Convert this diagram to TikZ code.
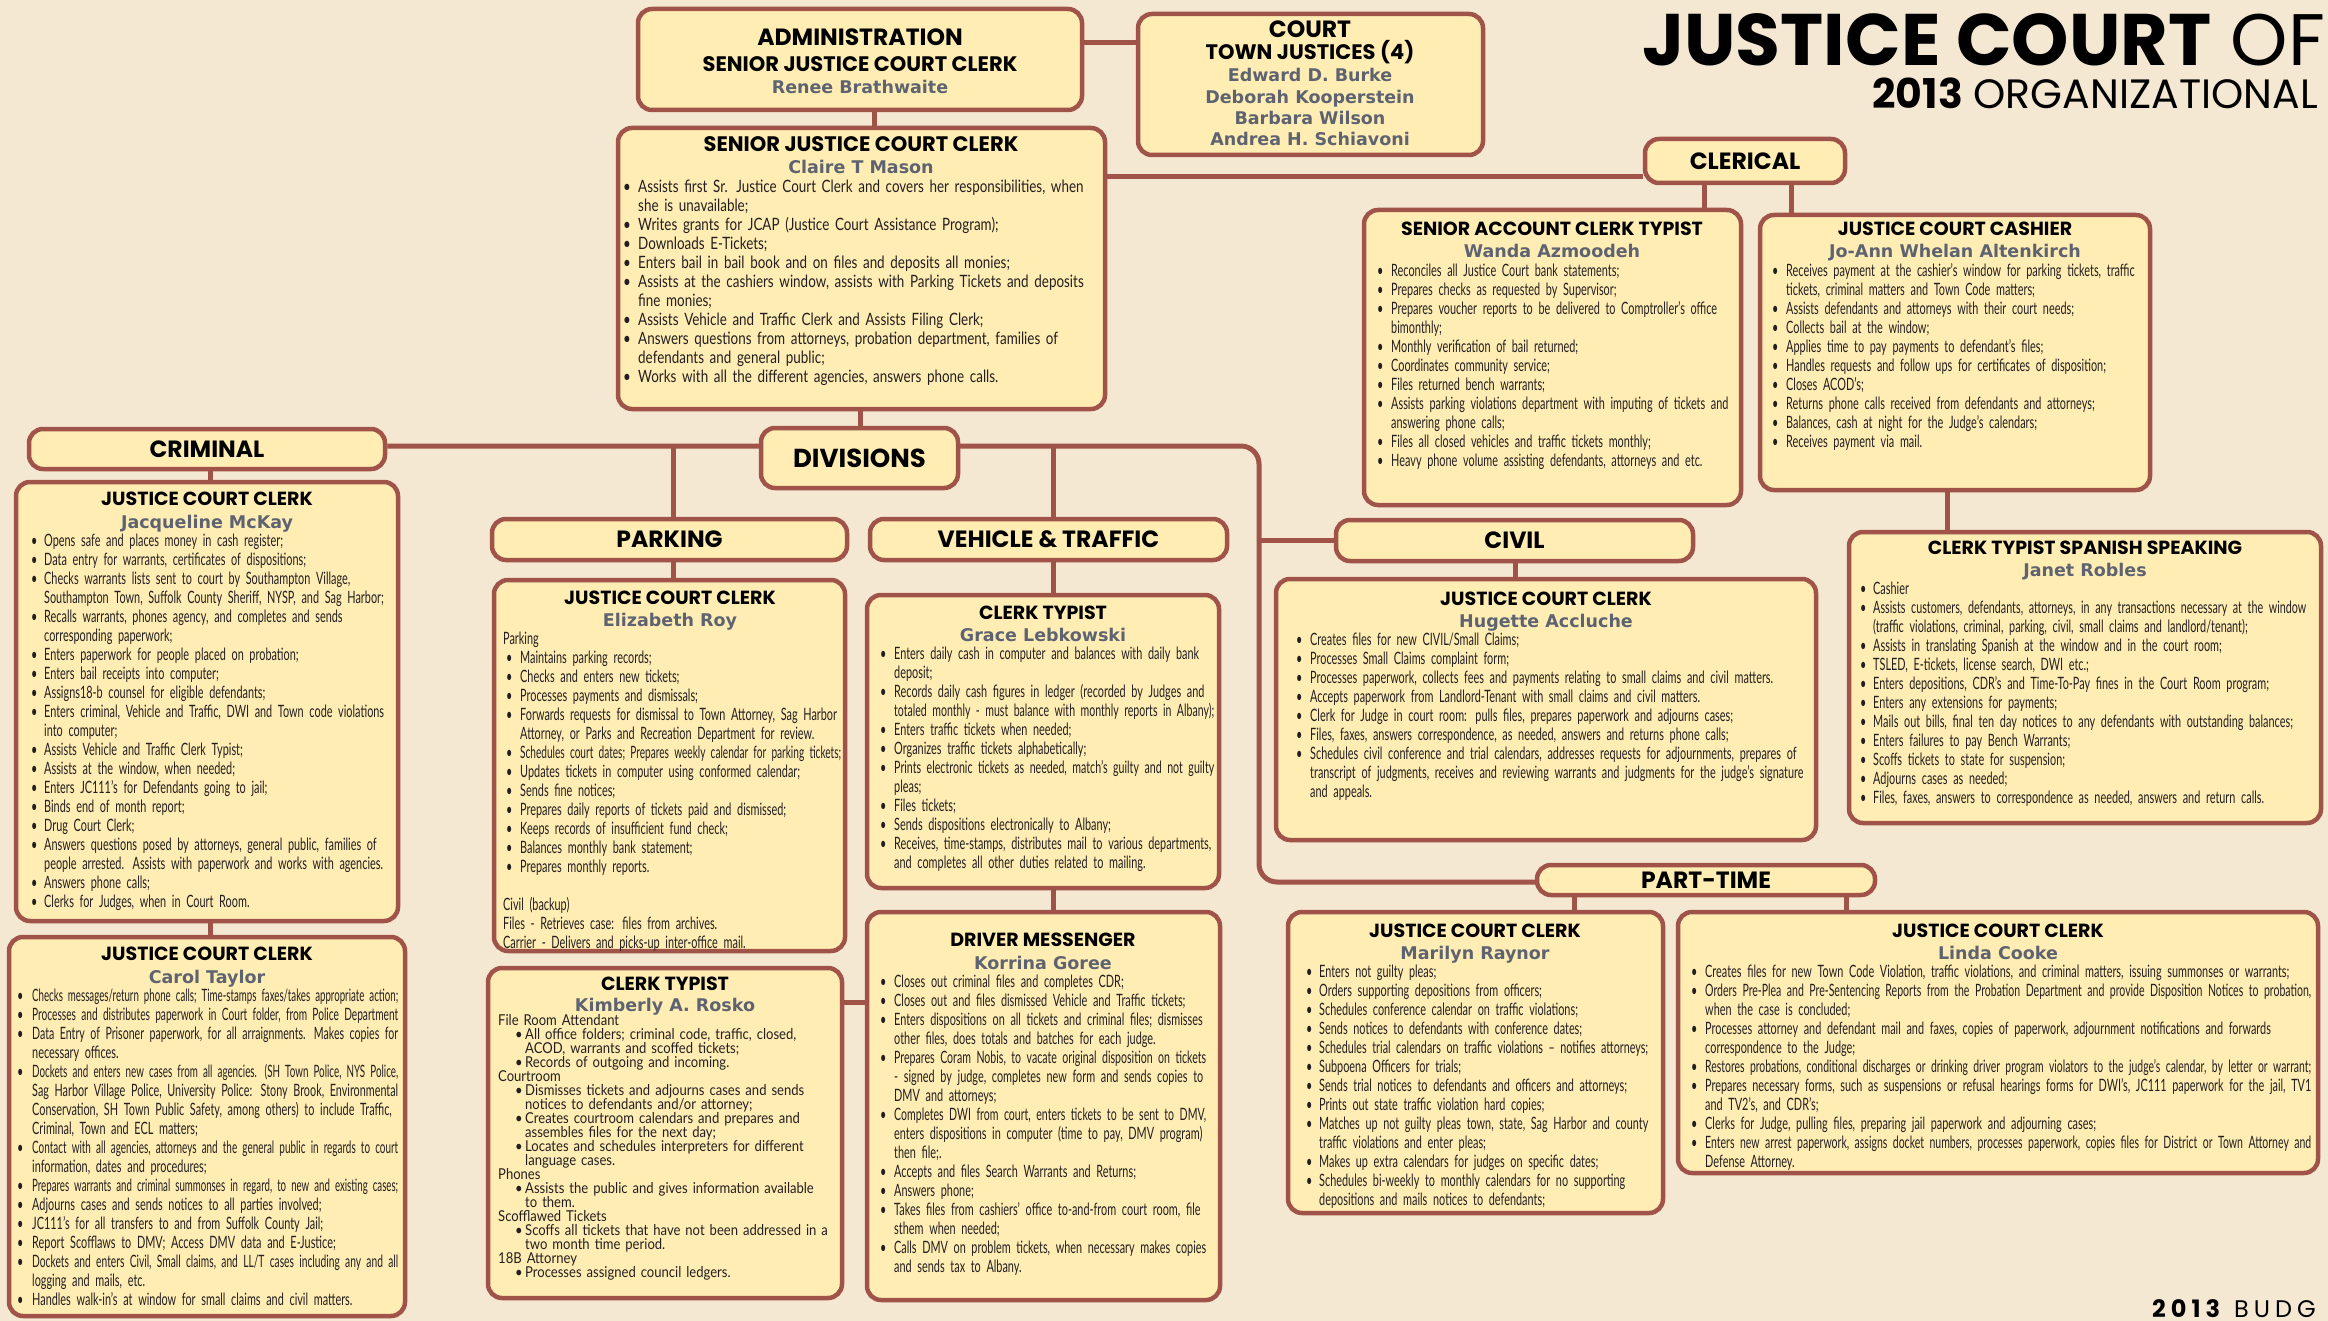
\documentclass[tikz,border=0pt]{standalone}
\usepackage{fontspec}
\usepackage{graphicx}
\setmainfont{Lato}
\newfontfamily\hfont{Poppins}
\newfontfamily\nmfont{DejaVu Sans}
\newfontfamily\bodyN[FakeStretch=0.64]{Lato}
\newfontfamily\bodyW[FakeStretch=0.79]{Lato}
\newfontfamily\bodyK[FakeStretch=0.87]{Lato}
\definecolor{bgc}{RGB}{244,232,211}
\definecolor{fillc}{RGB}{255,237,180}
\definecolor{linec}{RGB}{160,83,72}
\definecolor{namec}{RGB}{93,99,112}
\definecolor{bodyc}{RGB}{35,31,32}
\pgfdeclarelayer{bgl}\pgfdeclarelayer{cnl}\pgfsetlayers{bgl,cnl,main}
\makeatletter
\newdimen\bind \newdimen\bpre \newdimen\avw
\newsavebox\fitbox
\newif\ifrg \newif\ifallrg
\newcommand\RG{\global\rgtrue}
\newcommand\mystrut{\vrule width 0pt height .7\baselineskip depth .3\baselineskip\relax}
\def\setavw{\avw=\hsize\advance\avw-\bind}
\def\jline#1{\setavw\global\rgfalse\sbox\fitbox{#1}%
  \ifdim\wd\fitbox>\avw\resizebox{\avw}{\ht\fitbox}{\usebox\fitbox}%
  \else\ifallrg\usebox\fitbox\else\ifrg\usebox\fitbox\else\hbox to\avw{#1}\fi\fi\fi}
\def\lline#1{\setavw\sbox\fitbox{#1}%
  \ifdim\wd\fitbox>\avw\resizebox{\avw}{\ht\fitbox}{\usebox\fitbox}%
  \else\usebox\fitbox\fi}
\def\splitl#1|#2\@nil{\ifx\relax#2\relax\lline{#1}\else\jline{#1}\mystrut\par\noindent\hskip\bind\splitl#2\@nil\fi}
\newcommand\itm[1]{\par\noindent\hbox to\bind{\hskip\bpre•\hfil}\splitl#1|\@nil\mystrut}
\newcommand\pln[1]{\par\noindent\hbox{#1}\mystrut}
\makeatother
\newcommand\bx[6][]{%
  \pgfmathsetmacro\bxcx{(#3+#5)/2}\pgfmathsetmacro\bxcy{(#4+#6)/2}%
  \pgfmathsetmacro\bxw{#5-#3-4}\pgfmathsetmacro\bxh{#6-#4-4}%
  \node[box,minimum width=\bxw pt,minimum height=\bxh pt,#1] (#2) at (\bxcx,\bxcy)}
\begin{document}
\begin{tikzpicture}[x=1pt,y=-1pt,
  box/.style={draw=linec, fill=fillc, line width=4.5pt, rounded corners=14pt, inner sep=0pt},
  lbl/.style={font=\hfont\bfseries\fontsize{23.5}{24}\selectfont},
  conn/.style={draw=linec, line width=5pt},
  hdL/.style={anchor=base, inner sep=0pt, font=\hfont\bfseries\fontsize{23.5}{24}\selectfont},
  hdM/.style={anchor=base, inner sep=0pt, font=\hfont\bfseries\fontsize{21}{21}\selectfont},
  hd/.style={anchor=base, inner sep=0pt, font=\hfont\bfseries\fontsize{19}{19}\selectfont},
  nm/.style={anchor=base, inner sep=0pt, text=namec, font=\nmfont\bfseries\fontsize{17.5}{17.5}\selectfont},
  btxt/.style={anchor=north west, inner sep=0pt, text width=#1, align=left, text=bodyc,
    font=\bodyN\fontsize{17}{19}\selectfont, execute at begin node={\lineskiplimit=-100pt\parskip=0pt\relax}},
  btxtW/.style={btxt=#1, font=\bodyW\fontsize{17}{19}\selectfont},
  btxtK/.style={btxt=#1, font=\bodyK\fontsize{15}{14}\selectfont}
]
\useasboundingbox (0,0) rectangle (2328,1321);
\begin{pgfonlayer}{bgl}
\fill[bgc] (0,0) rectangle (2328,1321);
\end{pgfonlayer}

% title
\node[anchor=base west, inner sep=0pt, font=\hfont\fontsize{73}{73}\selectfont] (title) at (1642,66) {{\bfseries JUSTICE COURT} OF};
\node[anchor=base east, inner sep=0pt, font=\hfont\fontsize{41}{41}\selectfont] (subtitle) at (2318,109) {{\bfseries 2013} ORGANIZATIONAL};
\node[anchor=base west, inner sep=0pt, font=\hfont\fontsize{24}{24}\selectfont] (budget) at (2152,1317) {{\bfseries 2\hspace{5pt}0\hspace{5pt}1\hspace{5pt}3}\hspace{14pt}B\hspace{5pt}U\hspace{5pt}D\hspace{5pt}G};

% boxes
\bx{admin}{636}{7}{1084}{112} {};
\bx{court}{1136}{12}{1485}{157} {};
\bx{sjc}{616}{126}{1107}{411} {};
\bx[lbl]{clerical}{1643}{137}{1847}{185} {CLERICAL};
\bx{wanda}{1362}{208}{1743}{507} {};
\bx{cashier}{1758}{213}{2152}{492} {};
\bx{janet}{1847}{530}{2323}{825} {};
\bx[font=\hfont\bfseries\fontsize{26}{26}\selectfont]{divisions}{759}{426}{960}{490} {DIVISIONS};
\bx[lbl]{criminal}{27}{427}{387}{471} {CRIMINAL};
\bx{jacq}{14}{480}{400}{923} {};
\bx{carol}{7}{935}{407}{1318} {};
\bx[lbl]{parking}{490}{517}{849}{562} {PARKING};
\bx[lbl]{vehicle}{868}{517}{1229}{562} {VEHICLE \& TRAFFIC};
\bx{eliz}{492}{578}{847}{953} {};
\bx{grace}{865}{593}{1221}{890} {};
\bx{korrina}{865}{910}{1222}{1302} {};
\bx{kim}{486}{966}{844}{1300} {};
\bx[lbl]{civil}{1334}{518}{1695}{563} {CIVIL};
\bx{hugette}{1274}{577}{1818}{842} {};
\bx[lbl]{parttime}{1535}{863}{1877}{897} {PART-TIME};
\bx{marilyn}{1286}{910}{1665}{1215} {};
\bx{linda}{1676}{910}{2320}{1175} {};

% admin / court
\node[hdL] (adminT) at (860,46) {ADMINISTRATION};
\node[hdM] (adminH) at (860,72) {SENIOR JUSTICE COURT CLERK};
\node[nm] (adminN) at (860,94) {Renee Brathwaite};
\node[hdL] (courtT) at (1310,38) {COURT};
\node[hdM] (courtH) at (1310,60) {TOWN JUSTICES (4)};
\node[nm] (j1) at (1310,82) {Edward D. Burke};
\node[nm] (j2) at (1310,104) {Deborah Kooperstein};
\node[nm] (j3) at (1310,125) {Barbara Wilson};
\node[nm] (j4) at (1310,146) {Andrea H. Schiavoni};

% senior justice court clerk
\node[hdM] (sjcH) at (861,152) {SENIOR JUSTICE COURT CLERK};
\node[nm] (sjcN) at (861,174) {Claire T Mason};
\node[btxtW=475pt] (sjcB) at (623,173) {\bind=15pt\bpre=0pt
\itm{Assists first Sr. Justice Court Clerk and covers her responsibilities, when|she is unavailable;}
\itm{Writes grants for JCAP (Justice Court Assistance Program);}
\itm{Downloads E-Tickets;}
\itm{Enters bail in bail book and on files and deposits all monies;}
\itm{Assists at the cashiers window, assists with Parking Tickets and deposits|fine monies;}
\itm{Assists Vehicle and Traffic Clerk and Assists Filing Clerk;}
\itm{Answers questions from attorneys, probation department, families of|defendants and general public;}
\itm{Works with all the different agencies, answers phone calls.}};

% wanda
\node[hd] (wandaH) at (1552,236) {SENIOR ACCOUNT CLERK TYPIST};
\node[nm] (wandaN) at (1552,258) {Wanda Azmoodeh};
\node[btxt=356pt] (wandaB) at (1377,257) {\bind=14pt\bpre=0pt
\itm{Reconciles all Justice Court bank statements;}
\itm{Prepares checks as requested by Supervisor;}
\itm{Prepares voucher reports to be delivered to Comptroller’s office|bimonthly;}
\itm{Monthly verification of bail returned;}
\itm{Coordinates community service;}
\itm{Files returned bench warrants;}
\itm{Assists parking violations department with imputing of tickets and|answering phone calls;}
\itm{Files all closed vehicles and traffic tickets monthly;}
\itm{Heavy phone volume assisting defendants, attorneys and etc.}};

% cashier
\node[hd] (cashH) at (1955,236) {JUSTICE COURT CASHIER};
\node[nm] (cashN) at (1955,258) {Jo-Ann Whelan Altenkirch};
\node[btxt=364pt] (cashB) at (1772,257) {\bind=14pt\bpre=0pt
\itm{Receives payment at the cashier’s window for parking tickets, traffic|tickets, criminal matters and Town Code matters;}
\itm{Assists defendants and attorneys with their court needs;}
\itm{Collects bail at the window;}
\itm{Applies time to pay payments to defendant’s files;}
\itm{Handles requests and follow ups for certificates of disposition;}
\itm{Closes ACOD’s;}
\itm{Returns phone calls received from defendants and attorneys;}
\itm{Balances, cash at night for the Judge’s calendars;}
\itm{Receives payment via mail.}};

% janet
\node[hd] (janetH) at (2085,554) {CLERK TYPIST SPANISH SPEAKING};
\node[nm] (janetN) at (2085,576) {Janet Robles};
\node[btxt=446pt] (janetB) at (1860,575) {\bind=13pt\bpre=0pt
\itm{Cashier}
\itm{Assists customers, defendants, attorneys, in any transactions necessary at the window|(traffic violations, criminal, parking, civil, small claims and landlord/tenant);}
\itm{Assists in translating Spanish at the window and in the court room;}
\itm{TSLED, E-tickets, license search, DWI etc.;}
\itm{Enters depositions, CDR’s and Time-To-Pay fines in the Court Room program;}
\itm{Enters any extensions for payments;}
\itm{Mails out bills, final ten day notices to any defendants with outstanding balances;}
\itm{Enters failures to pay Bench Warrants;}
\itm{Scoffs tickets to state for suspension;}
\itm{Adjourns cases as needed;}
\itm{Files, faxes, answers to correspondence as needed, answers and return calls.}};

% jacqueline
\node[hd] (jacqH) at (207,505) {JUSTICE COURT CLERK};
\node[nm] (jacqN) at (207,528) {Jacqueline McKay};
\node[btxt=356pt] (jacqB) at (31,527) {\bind=13pt\bpre=0pt
\itm{Opens safe and places money in cash register;}
\itm{Data entry for warrants, certificates of dispositions;}
\itm{Checks warrants lists sent to court by Southampton Village,|Southampton Town, Suffolk County Sheriff, NYSP, and Sag Harbor;}
\itm{Recalls warrants, phones agency, and completes and sends\RG|corresponding paperwork;}
\itm{Enters paperwork for people placed on probation;}
\itm{Enters bail receipts into computer;}
\itm{Assigns18-b counsel for eligible defendants;}
\itm{Enters criminal, Vehicle and Traffic, DWI and Town code violations|into computer;}
\itm{Assists Vehicle and Traffic Clerk Typist;}
\itm{Assists at the window, when needed;}
\itm{Enters JC111’s for Defendants going to jail;}
\itm{Binds end of month report;}
\itm{Drug Court Clerk;}
\itm{Answers questions posed by attorneys, general public, families of|people arrested. Assists with paperwork and works with agencies.}
\itm{Answers phone calls;}
\itm{Clerks for Judges, when in Court Room.}};

% carol
\node[hd] (carolH) at (207,960) {JUSTICE COURT CLERK};
\node[nm] (carolN) at (207,983) {Carol Taylor};
\node[btxt=381pt] (carolB) at (17,982) {\bind=15pt\bpre=0pt
\itm{Checks messages/return phone calls; Time-stamps faxes/takes appropriate action;}
\itm{Processes and distributes paperwork in Court folder, from Police Department}
\itm{Data Entry of Prisoner paperwork, for all arraignments. Makes copies for|necessary offices.}
\itm{Dockets and enters new cases from all agencies. (SH Town Police, NYS Police,|Sag Harbor Village Police, University Police: Stony Brook, Environmental|Conservation, SH Town Public Safety, among others) to include Traffic,|Criminal, Town and ECL matters;}
\itm{Contact with all agencies, attorneys and the general public in regards to court|information, dates and procedures;}
\itm{Prepares warrants and criminal summonses in regard, to new and existing cases;}
\itm{Adjourns cases and sends notices to all parties involved;}
\itm{JC111’s for all transfers to and from Suffolk County Jail;}
\itm{Report Scofflaws to DMV; Access DMV data and E-Justice;}
\itm{Dockets and enters Civil, Small claims, and LL/T cases including any and all|logging and mails, etc.}
\itm{Handles walk-in’s at window for small claims and civil matters.}};

% elizabeth
\node[hd] (elizH) at (670,604) {JUSTICE COURT CLERK};
\node[nm] (elizN) at (670,626) {Elizabeth Roy};
\node[btxt=338pt] (elizB) at (503,625) {\bind=17pt\bpre=3pt
\pln{Parking}
\itm{Maintains parking records;}
\itm{Checks and enters new tickets;}
\itm{Processes payments and dismissals;}
\itm{Forwards requests for dismissal to Town Attorney, Sag Harbor|Attorney, or Parks and Recreation Department for review.}
\itm{Schedules court dates; Prepares weekly calendar for parking tickets;}
\itm{Updates tickets in computer using conformed calendar;}
\itm{Sends fine notices;}
\itm{Prepares daily reports of tickets paid and dismissed;}
\itm{Keeps records of insufficient fund check;}
\itm{Balances monthly bank statement;}
\itm{Prepares monthly reports.}
\pln{}
\pln{Civil (backup)}
\pln{Files - Retrieves case: files from archives.}
\pln{Carrier - Delivers and picks-up inter-office mail.}};

% grace
\node[hd] (graceH) at (1043,619) {CLERK TYPIST};
\node[nm] (graceN) at (1043,641) {Grace Lebkowski};
\node[btxt=334pt] (graceB) at (880,640) {\bind=14pt\bpre=0pt
\itm{Enters daily cash in computer and balances with daily bank|deposit;}
\itm{Records daily cash figures in ledger (recorded by Judges and|totaled monthly - must balance with monthly reports in Albany);}
\itm{Enters traffic tickets when needed;}
\itm{Organizes traffic tickets alphabetically;}
\itm{Prints electronic tickets as needed, match’s guilty and not guilty|pleas;}
\itm{Files tickets;}
\itm{Sends dispositions electronically to Albany;}
\itm{Receives, time-stamps, distributes mail to various departments,|and completes all other duties related to mailing.}};

% korrina
\node[hd] (korH) at (1043,946) {DRIVER MESSENGER};
\node[nm] (korN) at (1043,969) {Korrina Goree};
\node[btxt=326pt] (korB) at (880,968) {\bind=14pt\bpre=0pt
\itm{Closes out criminal files and completes CDR;}
\itm{Closes out and files dismissed Vehicle and Traffic tickets;}
\itm{Enters dispositions on all tickets and criminal files; dismisses|other files, does totals and batches for each judge.}
\itm{Prepares Coram Nobis, to vacate original disposition on tickets|- signed by judge, completes new form and sends copies to|DMV and attorneys;}
\itm{Completes DWI from court, enters tickets to be sent to DMV,|enters dispositions in computer (time to pay, DMV program)|then file;.}
\itm{Accepts and files Search Warrants and Returns;}
\itm{Answers phone;}
\itm{Takes files from cashiers’ office to-and-from court room, file|sthem when needed;}
\itm{Calls DMV on problem tickets, when necessary makes copies|and sends tax to Albany.}};

% kimberly
\node[hd] (kimH) at (665,990) {CLERK TYPIST};
\node[nm] (kimN) at (665,1011) {Kimberly A. Rosko};
\node[btxtK=332pt] (kimB) at (498,1011) {\allrgtrue\bind=27pt\bpre=17pt
\pln{File Room Attendant}
\itm{All office folders; criminal code, traffic, closed,|ACOD, warrants and scoffed tickets;}
\itm{Records of outgoing and incoming.}
\pln{Courtroom}
\itm{Dismisses tickets and adjourns cases and sends|notices to defendants and/or attorney;}
\itm{Creates courtroom calendars and prepares and|assembles files for the next day;}
\itm{Locates and schedules interpreters for different|language cases.}
\pln{Phones}
\itm{Assists the public and gives information available|to them.}
\pln{Scofflawed Tickets}
\itm{Scoffs all tickets that have not been addressed in a|two month time period.}
\pln{18B Attorney}
\itm{Processes assigned council ledgers.}};

% hugette
\node[hd] (hugH) at (1546,605) {JUSTICE COURT CLERK};
\node[nm] (hugN) at (1546,627) {Hugette Accluche};
\node[btxt=512pt] (hugB) at (1296,626) {\bind=14pt\bpre=0pt
\itm{Creates files for new CIVIL/Small Claims;}
\itm{Processes Small Claims complaint form;}
\itm{Processes paperwork, collects fees and payments relating to small claims and civil matters.}
\itm{Accepts paperwork from Landlord-Tenant with small claims and civil matters.}
\itm{Clerk for Judge in court room: pulls files, prepares paperwork  and adjourns cases;}
\itm{Files, faxes, answers correspondence, as needed, answers and returns phone calls;}
\itm{Schedules civil conference and trial calendars, addresses requests for adjournments, prepares of|transcript of judgments, receives and reviewing warrants and judgments for the judge’s signature|and appeals.}};

% marilyn
\node[hd] (marH) at (1475,937) {JUSTICE COURT CLERK};
\node[nm] (marN) at (1475,959) {Marilyn Raynor};
\node[btxt=342pt] (marB) at (1306,958) {\bind=13pt\bpre=0pt
\itm{Enters not guilty pleas;}
\itm{Orders supporting depositions from officers;}
\itm{Schedules conference calendar on traffic violations;}
\itm{Sends notices to defendants with conference dates;}
\itm{Schedules trial calendars on traffic violations – notifies attorneys;}
\itm{Subpoena Officers for trials;}
\itm{Sends trial notices to defendants and officers and attorneys;}
\itm{Prints out state traffic violation hard copies;}
\itm{Matches up not guilty pleas town, state, Sag Harbor and county|traffic violations and enter pleas;}
\itm{Makes up extra calendars for judges on specific dates;}
\itm{Schedules bi-weekly to monthly calendars for no supporting|depositions and mails notices to defendants;}};

% linda
\node[hd] (lindaH) at (1998,937) {JUSTICE COURT CLERK};
\node[nm] (lindaN) at (1998,959) {Linda Cooke};
\node[btxt=620pt] (lindaB) at (1691,958) {\bind=14pt\bpre=0pt
\itm{Creates files for new Town Code Violation, traffic violations, and criminal matters, issuing summonses or warrants;}
\itm{Orders Pre-Plea and Pre-Sentencing Reports from the Probation Department and provide Disposition Notices to probation,|when the case is concluded;}
\itm{Processes attorney and defendant mail and faxes, copies of paperwork, adjournment notifications and forwards|correspondence to the Judge;}
\itm{Restores probations, conditional discharges or drinking driver program violators to the judge’s calendar, by letter or warrant;}
\itm{Prepares necessary forms, such as suspensions or refusal hearings forms for DWI’s, JC111 paperwork for the jail, TV1|and TV2’s, and CDR’s;}
\itm{Clerks for Judge, pulling files, preparing jail paperwork and adjourning cases;}
\itm{Enters new arrest paperwork, assigns docket numbers, processes paperwork, copies files for District or Town Attorney and|Defense Attorney.}};

% connectors
\coordinate (yac) at (0,43);
\coordinate (xas) at (874,0);
\coordinate (ysc) at (0,177);
\coordinate (xcw) at (1704,0);
\coordinate (xcc) at (1791,0);
\coordinate (xcj) at (1947,0);
\coordinate (xsd) at (860,0);
\coordinate (ydv) at (0,446);
\coordinate (xv) at (1259,0);
\coordinate (ypt) at (0,882);
\coordinate (xpk) at (673,0);
\coordinate (xvt) at (1053,0);
\coordinate (xcr) at (210,0);
\coordinate (xcv) at (1515,0);
\coordinate (xmr) at (1574,0);
\coordinate (xld) at (1846,0);
\coordinate (ykk) at (0,1002);
\begin{pgfonlayer}{cnl}
\draw[conn] (admin.east |- yac) -- (court.west |- yac);
\draw[conn] (xas |- admin.south) -- (xas |- sjc.north);
\draw[conn] (sjc.east |- ysc) -- (clerical.west |- ysc);
\draw[conn] (xcw |- clerical.south) -- (xcw |- wanda.north);
\draw[conn] (xcc |- clerical.south) -- (xcc |- cashier.north);
\draw[conn] (xcj |- cashier.south) -- (xcj |- janet.north);
\draw[conn] (xsd |- sjc.south) -- (xsd |- divisions.north);
\draw[conn, rounded corners=18pt] (criminal.east |- ydv) -- (xv |- ydv) -- (xv |- ypt) -- (parttime.west |- ypt);
\draw[conn] (xpk |- ydv) -- (xpk |- parking.north);
\draw[conn] (xvt |- ydv) -- (xvt |- vehicle.north);
\draw[conn] (xv |- civil.west) -- (civil.west);
\draw[conn] (xcr |- criminal.south) -- (xcr |- jacq.north);
\draw[conn] (xcr |- jacq.south) -- (xcr |- carol.north);
\draw[conn] (xpk |- parking.south) -- (xpk |- eliz.north);
\draw[conn] (xvt |- vehicle.south) -- (xvt |- grace.north);
\draw[conn] (xvt |- grace.south) -- (xvt |- korrina.north);
\draw[conn] (kim.east |- ykk) -- (korrina.west |- ykk);
\draw[conn] (xcv |- civil.south) -- (xcv |- hugette.north);
\draw[conn] (xmr |- parttime.south) -- (xmr |- marilyn.north);
\draw[conn] (xld |- parttime.south) -- (xld |- linda.north);
\end{pgfonlayer}
\end{tikzpicture}
\end{document}
